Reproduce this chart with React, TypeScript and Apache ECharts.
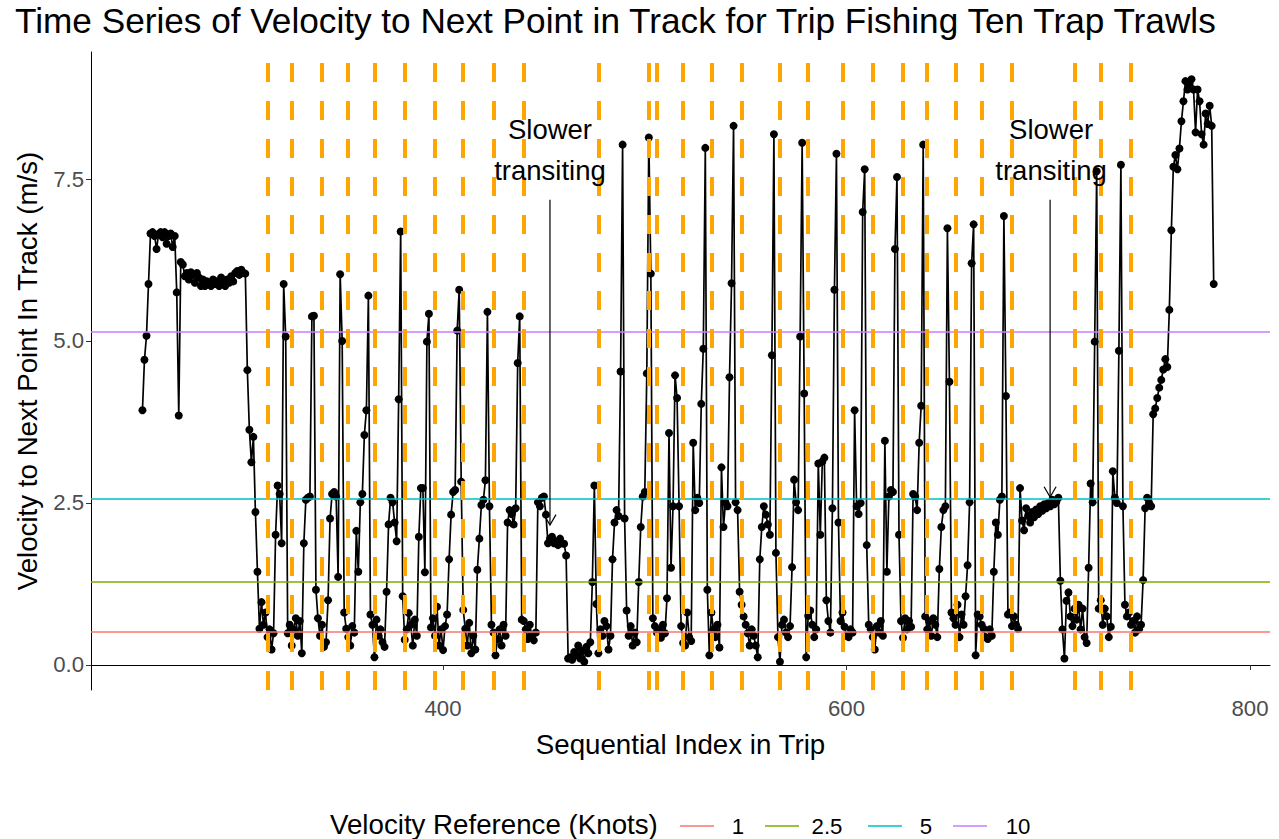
import React, { useEffect, useRef } from "react";
import * as echarts from "echarts";

const FONT = "'Liberation Sans', Arial, Helvetica, sans-serif";

const TITLE = "Time Series of Velocity to Next Point in Track for Trip Fishing Ten Trap Trawls";
const X_NAME = "Sequential Index in Trip";
const Y_NAME = "Velocity to Next Point In Track (m/s)";

const START_INDEX = 251;
const VELOCITY: number[] = [
  3.93, 4.71, 5.08, 5.88, 6.66, 6.68, 6.62, 6.42, 6.65, 6.68, // 251
  6.60, 6.68, 6.50, 6.62, 6.66, 6.45, 6.62, 5.75, 3.85, 6.22, // 261
  6.18, 6.00, 6.05, 5.95, 6.06, 6.02, 5.90, 6.05, 5.98, 5.85, // 271
  5.95, 5.85, 5.92, 5.88, 5.85, 5.95, 5.88, 5.92, 5.85, 5.98, // 281
  5.90, 5.85, 5.95, 5.90, 6.00, 5.92, 6.05, 6.08, 6.02, 6.10, // 291
  6.05, 6.04, 4.55, 3.63, 3.13, 3.52, 2.36, 1.44, 0.56, 0.97, // 301
  0.62, 0.81, 0.43, 0.55, 0.24, 0.49, 2.01, 2.77, 2.64, 1.88, // 311
  5.88, 5.07, 0.49, 0.62, 0.30, 0.55, 0.72, 0.45, 0.68, 0.18, // 321
  1.88, 2.55, 2.58, 2.60, 5.38, 5.39, 1.16, 0.72, 0.45, 0.62, // 331
  0.28, 0.35, 1.00, 2.26, 2.64, 2.67, 2.60, 1.36, 6.03, 5.00, // 341
  0.81, 0.56, 0.43, 0.30, 0.60, 0.50, 2.07, 1.44, 2.51, 2.64, // 351
  3.55, 3.93, 5.70, 0.78, 0.62, 0.12, 0.70, 0.45, 0.55, 0.35, // 361
  0.28, 1.13, 2.17, 2.58, 2.51, 2.20, 1.91, 4.10, 6.69, 1.06, // 371
  0.39, 0.55, 0.80, 0.62, 0.30, 0.70, 0.45, 1.98, 2.73, 2.73, // 381
  1.43, 4.99, 5.42, 0.58, 0.72, 0.45, 0.90, 0.30, 0.55, 0.23, // 391
  0.60, 0.78, 1.63, 2.32, 2.67, 2.70, 5.16, 5.79, 2.83, 0.85, // 401
  0.56, 0.30, 0.65, 0.18, 0.45, 0.24, 1.47, 1.95, 2.47, 2.55, // 411
  2.85, 5.45, 2.45, 0.62, 0.50, 0.15, 0.40, 0.55, 0.30, 0.62, // 421
  0.45, 2.20, 2.39, 2.33, 2.17, 2.42, 4.66, 5.38, 0.70, 0.68, // 431
  0.55, 0.40, 0.62, 0.45, 0.38, 0.50, 2.51, 2.45, 2.58, 2.60, // 441
  2.32, 1.88, 1.95, 1.98, 1.88, 1.91, 1.85, 1.95, 1.88, 1.87, // 451
  1.69, 0.10, 0.12, 0.08, 0.20, 0.15, 0.30, 0.10, 0.22, 0.05, // 461
  0.28, 0.18, 0.35, 1.28, 2.77, 0.94, 0.18, 0.55, 0.45, 0.68, // 471
  0.60, 0.24, 0.45, 1.63, 2.20, 2.39, 2.30, 4.53, 8.03, 2.26, // 481
  0.84, 0.45, 0.60, 0.30, 0.50, 0.35, 1.28, 2.13, 2.60, 2.67, // 491
  4.50, 8.14, 6.04, 0.72, 0.60, 0.50, 0.55, 0.42, 0.62, 0.49, // 501
  1.03, 3.58, 1.50, 2.45, 4.47, 4.12, 2.45, 0.60, 0.34, 0.30, // 511
  0.81, 0.43, 0.37, 3.43, 2.39, 2.58, 2.50, 4.03, 4.88, 7.98, // 521
  1.16, 0.15, 0.81, 0.55, 0.43, 0.62, 0.27, 3.05, 2.13, 2.51, // 531
  2.45, 4.44, 5.89, 8.32, 2.51, 2.39, 1.13, 0.93, 0.75, 0.62, // 541
  0.49, 0.30, 0.55, 0.45, 0.30, 0.12, 1.63, 2.13, 2.45, 2.32, // 551
  2.17, 2.01, 4.78, 8.19, 1.73, 0.43, 0.05, 0.62, 0.70, 0.50, // 561
  0.43, 0.60, 1.51, 2.86, 2.51, 2.39, 5.07, 8.06, 4.19, 0.12, // 571
  0.76, 0.84, 0.62, 0.43, 0.55, 3.11, 2.01, 3.14, 3.20, 1.00, // 581
  0.68, 0.50, 2.42, 5.79, 7.89, 2.20, 0.68, 0.81, 0.59, 0.45, // 591
  0.43, 0.55, 0.50, 3.93, 2.45, 2.33, 2.50, 6.99, 7.65, 1.85, // 601
  0.62, 0.55, 0.43, 0.24, 0.60, 0.50, 0.68, 0.45, 3.46, 1.44, // 611
  2.60, 2.70, 2.67, 6.42, 7.53, 2.01, 0.68, 0.42, 0.72, 0.55, // 621
  0.68, 0.59, 2.64, 2.60, 2.39, 3.43, 4.00, 8.03, 0.75, 0.55, // 631
  0.68, 0.45, 0.72, 0.62, 0.43, 1.48, 2.13, 2.39, 2.45, 6.74, // 641
  4.37, 0.81, 0.72, 0.62, 0.93, 0.43, 0.78, 0.62, 1.06, 1.54, // 651
  2.51, 6.20, 6.80, 0.15, 0.78, 0.75, 0.62, 0.56, 0.43, 0.40, // 661
  0.55, 0.45, 1.44, 2.20, 2.01, 2.55, 2.60, 6.93, 4.15, 0.78, // 671
  0.81, 0.60, 0.75, 0.62, 0.56, 2.73, 2.23, 2.08, 2.42, 2.30, // 681
  2.20, 2.36, 2.28, 2.40, 2.33, 2.45, 2.38, 2.48, 2.42, 2.50, // 691
  2.45, 2.55, 2.48, 2.52, 2.58, 1.30, 0.55, 0.10, 0.99, 1.12, // 701
  0.75, 0.60, 0.87, 0.70, 0.93, 0.55, 0.87, 0.43, 0.34, 1.50, // 711
  2.80, 2.51, 4.99, 7.62, 0.87, 1.00, 0.62, 0.87, 0.75, 0.43, // 721
  0.59, 2.99, 2.58, 2.50, 4.85, 7.72, 2.45, 0.93, 0.75, 0.81, // 731
  0.62, 0.68, 0.50, 0.75, 0.55, 0.62, 1.31, 2.42, 2.58, 2.50, // 741
  2.45, 3.87, 3.96, 4.12, 4.28, 4.40, 4.56, 4.72, 4.60, 5.48, // 751
  6.71, 7.69, 7.87, 7.65, 7.97, 8.39, 8.70, 9.01, 8.88, 8.98, // 761
  9.04, 8.88, 8.22, 8.88, 8.70, 8.19, 8.03, 8.51, 8.35, 8.63, // 771
  8.32, 5.88, // 781
];

const HAUL_MARKERS = [
  313, 325, 340, 353, 366, 381, 396, 410, 425, 440, 477, 502, 506, 519,
  533, 548, 567, 581, 598, 613, 628, 640, 654, 667, 682, 713, 726, 741,
];

const REF_LABELS = ["1", "2.5", "5", "10"];
const REF_VALUES = [0.514, 1.286, 2.572, 5.144];
const REF_COLORS = ["#F8766D", "#7CAE00", "#00BFC4", "#C77CFF"];
const LEGEND_TITLE = "Velocity Reference (Knots)";

const X_TICKS = [400, 600, 800];
const Y_TICKS = [0, 2.5, 5, 7.5];

const ANNOT_LABELS = ["Slower\ntransiting", "Slower\ntransiting"];
const ANNOT_TEXT_X = [453, 701.4];
const ANNOT_TEXT_Y = [7.94, 7.94];
const ANNOT_ARROW_X = [453, 700.9];
const ANNOT_ARROW_FROM = [7.18, 7.18];
const ANNOT_ARROW_TO = [2.16, 2.59];

const X_MIN = 225.5;
const X_MAX = 809.9;
const Y_MIN = -0.386;
const Y_MAX = 9.46;

export default function App() {
  const ref = useRef<HTMLDivElement>(null);

  useEffect(() => {
    if (!ref.current) return;
    const chart = echarts.init(ref.current, undefined, { renderer: "svg" });

    const legendKeyX = [680, 765, 868, 953];
    const legendLabelX = [738, 827, 926, 1018];
    const legendY = 826;

    const legendGraphic: any[] = [
      {
        type: "text",
        left: 330,
        top: legendY - 16,
        style: { text: LEGEND_TITLE, fontSize: 27.7, fontFamily: FONT, fill: "#000" },
      },
    ];
    REF_LABELS.forEach((lab, i) => {
      legendGraphic.push({
        type: "line",
        shape: { x1: legendKeyX[i], y1: legendY, x2: legendKeyX[i] + 34, y2: legendY },
        style: { stroke: REF_COLORS[i], lineWidth: 1.5 },
      });
      legendGraphic.push({
        type: "text",
        x: legendLabelX[i],
        y: legendY,
        style: {
          text: lab,
          fontSize: 22.2,
          fontFamily: FONT,
          fill: "#000",
          align: "center",
          verticalAlign: "middle",
        },
      });
    });

    const option: any = {
      animation: false,
      backgroundColor: "#ffffff",
      title: {
        text: TITLE,
        left: 15,
        top: 3,
        padding: 0,
        textStyle: { fontSize: 35.2, fontWeight: "normal", color: "#000", fontFamily: FONT },
      },
      grid: { left: 91, right: 9, top: 52, bottom: 149, containLabel: false },
      xAxis: {
        type: "value",
        min: X_MIN,
        max: X_MAX,
        name: X_NAME,
        nameLocation: "middle",
        nameGap: 40,
        nameTextStyle: { fontSize: 27.7, color: "#000", fontFamily: FONT },
        axisLine: { show: true, lineStyle: { color: "#000", width: 1 } },
        axisTick: { show: true, length: 5, customValues: X_TICKS, lineStyle: { color: "#333", width: 1 } },
        axisLabel: {
          customValues: X_TICKS,
          fontSize: 22.2,
          color: "#4D4D4D",
          fontFamily: FONT,
          margin: 7,
          formatter: (v: number) => String(v),
        },
        splitLine: { show: false },
      },
      yAxis: {
        type: "value",
        min: Y_MIN,
        max: Y_MAX,
        name: Y_NAME,
        nameLocation: "middle",
        nameGap: 50,
        nameRotate: 90,
        nameTextStyle: { fontSize: 27.7, color: "#000", fontFamily: FONT },
        axisLine: { show: true, lineStyle: { color: "#000", width: 1 } },
        axisTick: { show: true, length: 5, customValues: Y_TICKS, lineStyle: { color: "#333", width: 1 } },
        axisLabel: {
          customValues: Y_TICKS,
          fontSize: 22.2,
          color: "#4D4D4D",
          fontFamily: FONT,
          margin: 7,
          formatter: (v: number) => v.toFixed(1),
        },
        splitLine: { show: false },
      },
      series: [
        {
          type: "line",
          name: "velocity",
          z: 2,
          data: VELOCITY.map((v, i) => [START_INDEX + i, v]),
          symbol: "circle",
          symbolSize: 8,
          showSymbol: true,
          showAllSymbol: true,
          itemStyle: { color: "#000" },
          lineStyle: { color: "#000", width: 1.7 },
          silent: true,
        },
        ...REF_LABELS.map((lab, i) => ({
          type: "line",
          name: lab,
          z: 3,
          data: [],
          color: REF_COLORS[i],
          markLine: {
            silent: true,
            symbol: ["none", "none"],
            label: { show: false },
            emphasis: { disabled: true },
            lineStyle: { color: REF_COLORS[i], width: 1.5, type: "solid" },
            data: [{ yAxis: REF_VALUES[i] }],
          },
        })),
        {
          type: "line",
          name: "hauls",
          z: 4,
          data: [],
          markLine: {
            silent: true,
            symbol: ["none", "none"],
            label: { show: false },
            emphasis: { disabled: true },
            lineStyle: { color: "#FFA500", width: 4, type: [19, 19] },
            data: HAUL_MARKERS.map((x) => ({ xAxis: x })),
          },
        },
        {
          type: "custom",
          name: "annotations",
          z: 5,
          silent: true,
          coordinateSystem: "cartesian2d",
          encode: { x: [0, 2], y: [1, 3, 4] },
          data: ANNOT_LABELS.map((_, i) => [
            ANNOT_TEXT_X[i],
            ANNOT_TEXT_Y[i],
            ANNOT_ARROW_X[i],
            ANNOT_ARROW_FROM[i],
            ANNOT_ARROW_TO[i],
          ]),
          renderItem: (params: any, api: any) => {
            const t = api.coord([api.value(0), api.value(1)]);
            const a0 = api.coord([api.value(2), api.value(3)]);
            const a1 = api.coord([api.value(2), api.value(4)]);
            return {
              type: "group",
              children: [
                {
                  type: "text",
                  x: t[0],
                  y: t[1],
                  style: {
                    text: ANNOT_LABELS[params.dataIndex],
                    align: "center",
                    verticalAlign: "middle",
                    fontSize: 27.5,
                    lineHeight: 41,
                    fontFamily: FONT,
                    fill: "#000",
                  },
                },
                {
                  type: "line",
                  shape: { x1: a0[0], y1: a0[1], x2: a1[0], y2: a1[1] },
                  style: { stroke: "#000", lineWidth: 1.2 },
                },
                {
                  type: "polyline",
                  shape: {
                    points: [
                      [a1[0] - 6, a1[1] - 10.4],
                      [a1[0], a1[1]],
                      [a1[0] + 6, a1[1] - 10.4],
                    ],
                  },
                  style: { stroke: "#000", fill: "none", lineWidth: 1.2 },
                },
              ],
            };
          },
        },
      ],
      graphic: legendGraphic,
    };

    chart.setOption(option);
    return () => chart.dispose();
  }, []);

  return (
    <div
      ref={ref}
      style={{ position: "fixed", left: 0, top: 0, width: 1279, height: 839, background: "#fff" }}
    />
  );
}
